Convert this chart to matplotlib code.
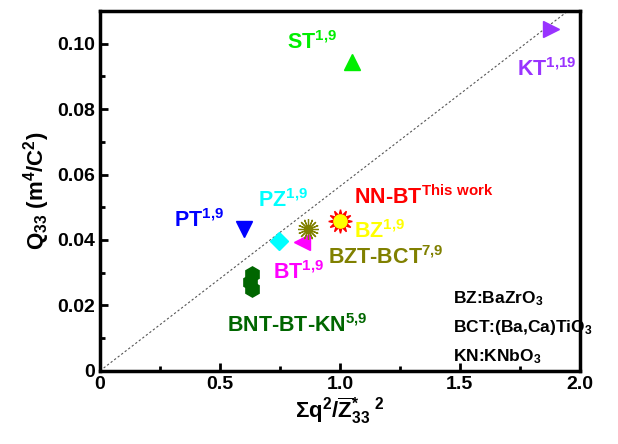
import numpy as np
import matplotlib.pyplot as plt
from matplotlib.ticker import MultipleLocator, FuncFormatter

plt.rcParams['font.family'] = ['Liberation Sans', 'DejaVu Sans']
plt.rcParams['font.weight'] = 'bold'
plt.rcParams['axes.labelweight'] = 'bold'
plt.rcParams['mathtext.fontset'] = 'custom'
plt.rcParams['mathtext.rm'] = 'Liberation Sans:bold'
plt.rcParams['mathtext.it'] = 'Liberation Sans:bold'
plt.rcParams['mathtext.bf'] = 'Liberation Sans:bold'
plt.rcParams['mathtext.default'] = 'rm'

# data points (x = sum q^2 / Z33*^2, y = Q33)
names = ["KT", "ST", "PT", "PZ", "BT", "BZT-BCT", "NN-BT", "BNT-BT-KN"]
x_kt, y_kt = [1.88], [0.1045]
x_st, y_st = [1.05], [0.0945]
x_pt, y_pt = [0.60], [0.0433]
x_pz, y_pz = [0.745], [0.0398]
x_bt, y_bt = [0.84], [0.0395]
x_bzt, y_bzt = [0.867], [0.0435]
x_nn, y_nn = [1.0], [0.0458]
x_bnt = [0.635, 0.627, 0.632]
y_bnt = [0.0295, 0.0272, 0.0250]

line_slope = 0.0564

fig = plt.figure(figsize=(6.18, 4.44), dpi=100)
ax = fig.add_axes([0.162, 0.165, 0.776, 0.81])

xs = np.array([0, 2.0])
ax.plot(xs, line_slope * xs, ls=(0, (2, 2)), color="#555555", lw=0.8, zorder=1)

ms = 11
ax.plot(x_kt, y_kt, ">", color="#9933FF", ms=ms, zorder=3)
ax.plot(x_st, y_st, "^", color="#00EE00", ms=ms, zorder=3)
ax.plot(x_pt, y_pt, "v", color="#0000FF", ms=ms, zorder=3)
ax.plot(x_pz, y_pz, "D", color="#00FFFF", ms=9, zorder=3)
ax.plot(x_bt, y_bt, "<", color="#FF00FF", ms=ms, zorder=3)
ax.plot(x_bzt, y_bzt, marker=(16, 2, 0), color="#808000", ms=15, mew=0.9,
        ls="none", zorder=4)
ax.plot(x_nn, y_nn, marker=(12, 1, 0), color="#FF0000", ms=17, ls="none", zorder=4)
ax.plot(x_nn, y_nn, "o", color="#FFFF00", ms=9.5, zorder=5)
ax.plot(x_bnt, y_bnt, "h", color="#006600", ms=ms, ls="none", zorder=3)

fs = 15.5
ax.text(0.78, 0.0985, r"ST$^{1{,}9}$", color="#00EE00", fontsize=fs)
ax.text(1.74, 0.0900, r"KT$^{1{,}19}$", color="#9933FF", fontsize=fs)
ax.text(0.66, 0.0500, r"PZ$^{1{,}9}$", color="#00FFFF", fontsize=fs)
ax.text(0.31, 0.0440, r"PT$^{1{,}9}$", color="#0000FF", fontsize=fs)
ax.text(1.06, 0.0510, r"NN-BT$^{\mathrm{This\ work}}$", color="#FF0000", fontsize=fs)
ax.text(1.06, 0.0405, r"BZ$^{1{,}9}$", color="#FFFF00", fontsize=fs)
ax.text(0.95, 0.0325, r"BZT-BCT$^{7{,}9}$", color="#808000", fontsize=fs)
ax.text(0.72, 0.0280, r"BT$^{1{,}9}$", color="#FF00FF", fontsize=fs)
ax.text(0.53, 0.0120, r"BNT-BT-KN$^{5{,}9}$", color="#006600", fontsize=fs)

ax.text(1.47, 0.0205, r"BZ:BaZrO$_3$", color="black", fontsize=12.5)
ax.text(1.47, 0.0117, r"BCT:(Ba,Ca)TiO$_3$", color="black", fontsize=12.5)
ax.text(1.47, 0.0030, r"KN:KNbO$_3$", color="black", fontsize=12.5)

ax.set_xlim(0, 2.0)
ax.set_ylim(0, 0.11)
ax.xaxis.set_major_locator(MultipleLocator(0.5))
ax.xaxis.set_minor_locator(MultipleLocator(0.25))
ax.yaxis.set_major_locator(MultipleLocator(0.02))
ax.yaxis.set_minor_locator(MultipleLocator(0.01))
ax.xaxis.set_major_formatter(FuncFormatter(lambda v, p: "0" if v == 0 else f"{v:.1f}"))
ax.yaxis.set_major_formatter(FuncFormatter(lambda v, p: "0" if v == 0 else f"{v:.2f}"))
ax.tick_params(which="both", direction="in", width=2, top=False, right=False,
               labelsize=14)
ax.tick_params(which="major", length=6)
ax.tick_params(which="minor", length=3.5)
for s in ax.spines.values():
    s.set_linewidth(2.5)

ax.set_xlabel(r"$\Sigma$q$^2$/$\overline{\mathrm{Z}}^{*}_{33}$$^{\ 2}$", fontsize=16,
              labelpad=2)
ax.set_ylabel(r"Q$_{33}$ (m$^4$/C$^2$)", fontsize=16, labelpad=4)

fig.savefig("out.png", dpi=100)
